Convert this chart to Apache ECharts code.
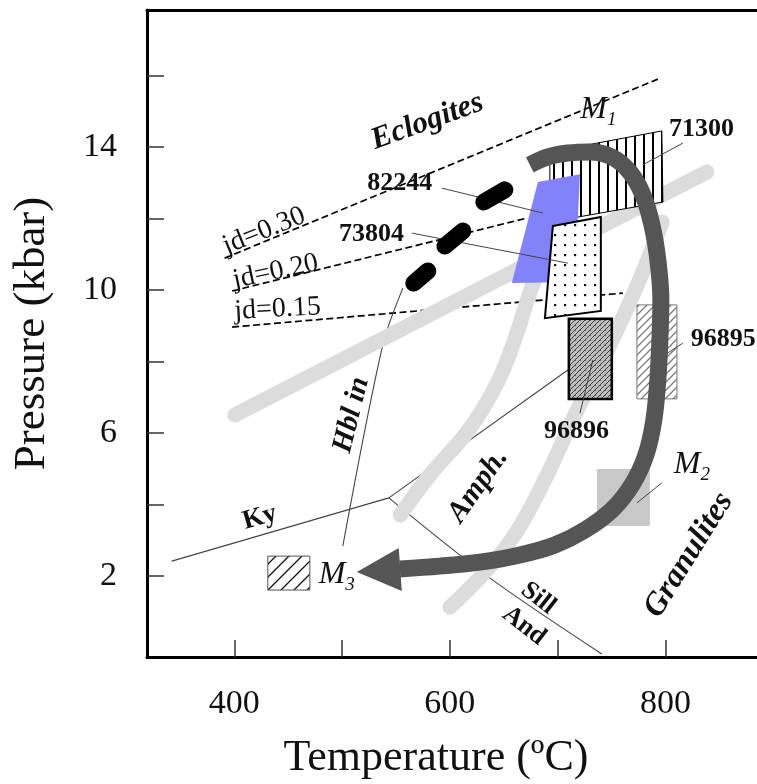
<!DOCTYPE html>
<html><head><meta charset="utf-8">
<script src="https://cdn.jsdelivr.net/npm/echarts@6/dist/echarts.min.js"></script>
<style>html,body{margin:0;padding:0;background:#fff}#c{width:757px;height:784px}</style>
</head><body><div id="c"></div>
<script>
// ---------- data (Temperature °C, Pressure kbar) ----------
const xTicks = [400, 500, 600, 700, 800];
const xTickLabels = [400, 600, 800];
const yTicks = [2, 4, 6, 8, 10, 12, 14, 16];
const yTickLabels = [2, 6, 10, 14];

const jd030 = [[391, 10.89], [793, 15.90]];
const jd020 = [[398, 9.97], [671.5, 12.01]];
const jd015 = [[398, 8.96], [760.5, 9.91]];

const kyAnd = [[342, 2.41], [543.4, 4.18]];
const kySill = [[543.4, 4.18], [709.5, 7.76]];
const sillAnd = [[543.4, 4.18], [637, 1.94], [741, -0.19]];
const hblIn = [[500.7, 2.83], [537.8, 8.46], [556.4, 10.05]];

const grayA = [[400.5, 6.5], [838.5, 13.3]];
const grayB = [[554, 3.7], [581, 4.8], [618, 6.1], [644, 7.4], [660, 8.6], [674, 9.9], [688, 11.0]];
const grayC = [[600, 1.12], [632.5, 2.1], [660, 3.14], [688, 4.68], [716, 6.5], [744, 8.18], [772, 10.0], [797, 11.9]];

const prograde1 = [[566.5, 10.19], [579.6, 10.53]];
const prograde2 = [[595.4, 11.23], [612.1, 11.65]];
const prograde3 = [[631.5, 12.46], [651.0, 12.80]];

const ptPath = [[674.2, 13.50], [691.0, 13.72], [709.5, 13.83], [729.9, 13.86], [750.3, 13.72], [767.0, 13.30],
  [779.1, 12.66], [787.5, 11.82], [793.0, 10.84], [795.8, 9.72], [794.9, 8.60], [793.0, 7.48], [789.3, 6.36],
  [781.9, 5.38], [768.9, 4.54], [750.3, 3.84], [725.3, 3.28], [697.4, 2.86], [665.0, 2.58], [627.8, 2.38],
  [590.7, 2.27], [553.6, 2.19]];
const arrowHead = [[513.7, 2.105], [552.6, 2.78], [555.4, 1.57]];

const box71300 = [[692.8, 13.86], [796.7, 14.45], [797.7, 12.46], [692.8, 11.90]];
const box82244 = [[681.7, 13.02], [720.7, 13.24], [716.0, 10.22], [657.5, 10.19]];
const box73804 = [[695.6, 11.79], [740.1, 12.04], [740.1, 9.41], [688.2, 9.21]];
const box96896 = [[710.4, 9.19], [750.3, 9.19], [750.3, 6.95], [710.4, 6.95]];
const box96895 = [[773.6, 9.58], [810.7, 9.58], [810.7, 6.95], [773.6, 6.95]];
const boxM2 = [[736.4, 4.99], [785.6, 4.99], [785.6, 3.39], [736.4, 3.39]];
const boxM3 = [[431.1, 2.55], [470.1, 2.55], [470.1, 1.60], [431.1, 1.60]];

const lead82244 = [[592.6, 12.85], [686.3, 12.15]];
const lead73804 = [[564.7, 11.59], [709.5, 10.75]];
const lead71300 = [[816.2, 14.11], [779.1, 13.50]];
const lead96895 = [[816.2, 8.51], [792.1, 8.04]];
const lead96896 = [[720.7, 6.55], [732.7, 8.04]];
const leadM2 = [[773.6, 4.04], [796.7, 4.60]];

const labelText = ['Eclogites', 'M', '71300', '82244', '73804', 'jd=0.30', 'jd=0.20', 'jd=0.15', '96895', '96896',
  'M', 'Granulites', 'Amph.', 'Hbl in', 'Ky', 'Sill', 'And', 'M'];
const labelSub = ['', '1', '', '', '', '', '', '', '', '', '2', '', '', '', '', '', '', '3'];
const labelPos = [[579.1, 14.71], [737.8, 15.05], [833.6, 14.50], [553.6, 12.98], [527.3, 11.56], [427.6, 11.65],
  [438.4, 10.51], [440.2, 9.46], [853.6, 8.62], [717.6, 6.03], [824.6, 5.10], [821.8, 2.58], [626.3, 4.52],
  [508.8, 6.50], [423.7, 3.63], [682.0, 1.37], [668.9, 0.60], [495.1, 2.035]];

// ---------- styles ----------
const FONT = 'Liberation Serif, Times New Roman, serif';
const labelStyle = [
  {rot: 20, size: 31, weight: 'bold', italic: true},
  {rot: 0, size: 32, weight: 'normal', italic: true},
  {rot: 0, size: 26, weight: 'bold'},
  {rot: 0, size: 26, weight: 'bold'},
  {rot: 0, size: 26, weight: 'bold'},
  {rot: 22, size: 28, weight: 'normal'},
  {rot: 12, size: 28, weight: 'normal'},
  {rot: 3, size: 28, weight: 'normal'},
  {rot: 0, size: 26, weight: 'bold'},
  {rot: 0, size: 26, weight: 'bold'},
  {rot: 0, size: 32, weight: 'normal', italic: true},
  {rot: 58, size: 32, weight: 'bold', italic: true},
  {rot: 55, size: 30, weight: 'bold', italic: true},
  {rot: 76, size: 29, weight: 'bold', italic: true},
  {rot: 16, size: 27, weight: 'bold'},
  {rot: -38, size: 26, weight: 'bold'},
  {rot: -38, size: 26, weight: 'bold'},
  {rot: 0, size: 32, weight: 'normal', italic: true}
];

function pattern(w, h, draw) {
  const c = document.createElement('canvas');
  c.width = w; c.height = h;
  const g = c.getContext('2d');
  draw(g, w, h);
  return {image: c, repeat: 'repeat'};
}
const patVertical = pattern(9, 9, (g, w, h) => {
  g.fillStyle = '#fff'; g.fillRect(0, 0, w, h);
  g.fillStyle = '#000'; g.fillRect(4, 0, 2, h);
});
const patDots = pattern(10, 10, (g, w, h) => {
  g.fillStyle = '#fff'; g.fillRect(0, 0, w, h);
  g.fillStyle = '#111'; g.fillRect(4, 4, 2.2, 2.2);
});
function diag(g, w, h, color, lw) {
  g.strokeStyle = color; g.lineWidth = lw;
  g.beginPath();
  g.moveTo(-1, h + 1); g.lineTo(w + 1, -1);
  g.moveTo(-1, 1); g.lineTo(1, -1);
  g.moveTo(w - 1, h + 1); g.lineTo(w + 1, h - 1);
  g.stroke();
}
const pat96896 = pattern(5, 5, (g, w, h) => {
  g.fillStyle = '#bdbdbd'; g.fillRect(0, 0, w, h);
  diag(g, w, h, '#3f3f3f', 1);
  g.fillStyle = '#666'; g.fillRect(0, 0, 1, 1);
});
const pat96895 = pattern(8, 8, (g, w, h) => {
  g.fillStyle = '#fff'; g.fillRect(0, 0, w, h);
  diag(g, w, h, '#7a7a7a', 1.3);
});
const patM3 = pattern(13, 13, (g, w, h) => {
  g.fillStyle = '#fff'; g.fillRect(0, 0, w, h);
  diag(g, w, h, '#111', 1.3);
});

function lineS(data, color, width, z, extra) {
  return {
    type: 'line', data: data, symbol: 'none', silent: true, z: z, animation: false,
    lineStyle: Object.assign({color: color, width: width}, (extra && extra.ls) || {}),
    smooth: (extra && extra.smooth) || false
  };
}
function polyS(pts, style, z) {
  return {
    type: 'custom', coordinateSystem: 'cartesian2d', silent: true, z: z, animation: false, clip: false,
    data: [pts[0]],
    renderItem: function (params, api) {
      return {type: 'polygon', shape: {points: pts.map(p => api.coord(p))}, style: style};
    }
  };
}

const dash = {type: [7, 3.5]};
const series = [
  lineS(jd030, '#000', 1.7, 1, {ls: dash}),
  lineS(jd020, '#000', 1.7, 1, {ls: dash}),
  lineS(jd015, '#000', 1.7, 1, {ls: dash}),
  lineS(kyAnd, '#444', 1.1, 1),
  lineS(kySill, '#444', 1.1, 1),
  lineS(sillAnd, '#444', 1.1, 1, {smooth: 0.3}),
  lineS(hblIn, '#444', 1.1, 1, {smooth: 0.3}),
  lineS(grayA, '#dcdcdc', 15, 2, {ls: {cap: 'round'}}),
  lineS(grayB, '#dcdcdc', 15, 2, {ls: {cap: 'round'}, smooth: 0.4}),
  lineS(grayC, '#dcdcdc', 15, 2, {ls: {cap: 'round'}, smooth: 0.4}),
  polyS(box71300, {fill: patVertical, stroke: '#000', lineWidth: 1}, 3),
  polyS(box82244, {fill: '#8282fa'}, 3),
  polyS(box73804, {fill: patDots, stroke: '#000', lineWidth: 2}, 3),
  polyS(box96896, {fill: pat96896, stroke: '#000', lineWidth: 2.5}, 3),
  polyS(box96895, {fill: pat96895, stroke: '#777', lineWidth: 1}, 3),
  polyS(boxM2, {fill: '#c8c8c8'}, 3),
  polyS(boxM3, {fill: patM3, stroke: '#555', lineWidth: 1}, 3),
  lineS(lead82244, '#444', 1, 4),
  lineS(lead73804, '#444', 1, 4),
  lineS(lead71300, '#444', 1, 4),
  lineS(lead96895, '#444', 1, 4),
  lineS(lead96896, '#444', 1, 4),
  lineS(leadM2, '#444', 1, 4),
  lineS(prograde1, '#000', 17, 5, {ls: {cap: 'round'}}),
  lineS(prograde2, '#000', 17, 5, {ls: {cap: 'round'}}),
  lineS(prograde3, '#000', 17, 5, {ls: {cap: 'round'}}),
  lineS(ptPath, '#555', 17, 5, {smooth: 0.35}),
  polyS(arrowHead, {fill: '#555'}, 5),
  {
    type: 'custom', coordinateSystem: 'cartesian2d', silent: true, z: 6, animation: false, clip: false,
    data: labelPos,
    renderItem: function (params, api) {
      const i = params.dataIndex;
      const st = labelStyle[i];
      const c = api.coord(labelPos[i]);
      const fs = st.italic ? 'italic' : 'normal';
      let text = labelText[i], rich;
      if (labelSub[i]) {
        text = '{m|' + labelText[i] + '}{s|' + labelSub[i] + '}';
        rich = {
          m: {fontSize: st.size, fontStyle: fs, fontFamily: FONT, lineHeight: 40, fill: '#111'},
          s: {fontSize: 19, fontStyle: fs, fontFamily: FONT, lineHeight: 40, verticalAlign: 'bottom', fill: '#111'}
        };
      }
      return {
        type: 'text', x: c[0], y: c[1], rotation: st.rot * Math.PI / 180,
        style: {
          text: text, rich: rich, fill: '#111', fontFamily: FONT, fontSize: st.size,
          fontWeight: st.weight, fontStyle: fs, align: 'center', verticalAlign: 'middle'
        }
      };
    }
  }
];

const chart = echarts.init(document.getElementById('c'), null, {renderer: 'canvas'});
chart.setOption({
  animation: false,
  backgroundColor: '#fff',
  grid: {left: 147, right: 0, top: 10, bottom: 127, outerBoundsMode: 'none', containLabel: false},
  xAxis: [{
    type: 'value', min: 319, max: 885, position: 'bottom',
    axisLine: {onZero: false, lineStyle: {color: '#000', width: 3}},
    axisTick: {inside: true, length: 17, customValues: xTicks, lineStyle: {color: '#333', width: 1.5}},
    axisLabel: {customValues: xTickLabels, fontFamily: FONT, fontSize: 34, color: '#111', margin: 30},
    splitLine: {show: false},
    name: 'Temperature (ºC)', nameLocation: 'middle', nameGap: 79,
    nameTextStyle: {fontFamily: FONT, fontSize: 44, color: '#111', padding: [0, 32, 0, 0]}
  }, {
    type: 'value', min: 319, max: 885, position: 'top',
    axisLine: {onZero: false, lineStyle: {color: '#000', width: 3}},
    axisTick: {show: false}, axisLabel: {show: false}, splitLine: {show: false}
  }],
  yAxis: {
    type: 'value', min: -0.274, max: 17.834,
    axisLine: {show: true, onZero: false, lineStyle: {color: '#000', width: 3}},
    axisTick: {show: true, inside: true, length: 17, customValues: yTicks, lineStyle: {color: '#333', width: 1.5}},
    axisLabel: {customValues: yTickLabels, fontFamily: FONT, fontSize: 34, color: '#111', margin: 30},
    splitLine: {show: false},
    name: 'Pressure (kbar)', nameLocation: 'middle', nameGap: 92, nameRotate: 90,
    nameTextStyle: {fontFamily: FONT, fontSize: 45, color: '#111'}
  },
  series: series
});
</script>
</body></html>
